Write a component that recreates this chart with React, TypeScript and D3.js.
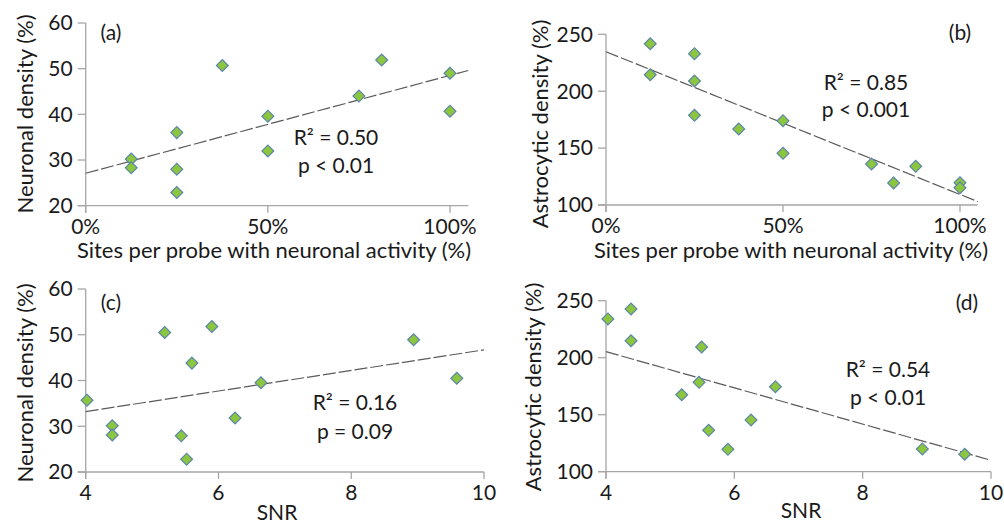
import React from 'react'
import * as d3 from 'd3'

// probes: fraction of sites with neuronal activity
const sitesA = [0.125, 0.125, 0.25, 0.25, 0.25, 0.375, 0.5, 0.5, 0.75, 0.8125, 1, 1]
const neuronA = [30.2, 28.3, 36.0, 28.0, 22.9, 50.7, 39.6, 32.0, 44.0, 51.9, 49.0, 40.7]

const sitesB = [0.125, 0.125, 0.25, 0.25, 0.25, 0.375, 0.5, 0.5, 0.75, 0.8125, 0.875, 1, 1]
const astroB = [241.7, 214.5, 233.0, 209.0, 178.8, 166.8, 174.1, 145.4, 136.0, 119.3, 134.0, 119.6, 115.2]

const snrC = [4.02, 4.4, 4.4, 5.19, 5.44, 5.52, 5.6, 5.9, 6.25, 6.64, 8.94, 9.59]
const neuronC = [35.7, 30.1, 28.1, 50.5, 27.9, 22.8, 43.8, 51.8, 31.8, 39.5, 48.9, 40.5]

const snrD = [4.03, 4.39, 4.39, 5.18, 5.45, 5.49, 5.6, 5.9, 6.26, 6.64, 8.93, 9.59]
const astroD = [234.0, 242.7, 214.9, 167.5, 178.4, 209.4, 136.3, 119.6, 145.4, 174.6, 120.0, 115.3]

// trend line ends [x0, x1] -> [y0, y1]
const trendAx = [0, 1.05], trendAy = [27.1, 49.6]
const trendBx = [0, 1.05], trendBy = [234.7, 103]
const trendCx = [4, 10], trendCy = [33.2, 46.7]
const trendDx = [4, 10], trendDy = [205.3, 110]

const pctTicks = [0, 0.5, 1]
const snrTicks = [4, 6, 8, 10]
const neuronTicks = [20, 30, 40, 50, 60]
const astroTicks = [100, 150, 200, 250]

const FONT = 'Lato, "Open Sans", sans-serif'
const AXIS = '#a6a6a6'
const TXT = '#1a1a1a'
const FS = 21

const diamond = d3.symbol().type(d3.symbolSquare).size(70)()

function Panel(props) {
  const { xs, ys, tx, ty, xDom, xRange, xEnd, yDom, yRange, xTicks, yTicks, xFmt,
    xTitle, xTitleX, xTitleY, xTitleFs, yTitle, yTitleX, yTitleY,
    tag, tagX, tagY, r2, r2X, r2Y, pv, pY } = props
  const x = d3.scaleLinear().domain(xDom).range(xRange)
  const y = d3.scaleLinear().domain(yDom).range(yRange)
  const x0 = xRange[0]
  const x1 = x(xEnd)
  const yb = yRange[0]
  const line = d3.line().x(d => x(d[0])).y(d => y(d[1]))
  return (
    <g fontFamily={FONT} fill={TXT}>
      <line x1={x0} x2={x0} y1={yRange[1]} y2={yb + 7} stroke={AXIS} strokeWidth={1.3} />
      <line x1={x0 - 8} x2={x1} y1={yb} y2={yb} stroke={AXIS} strokeWidth={1.3} />
      {yTicks.map(t => (
        <g key={'y' + t}>
          <line x1={x0 - 8} x2={x0} y1={y(t)} y2={y(t)} stroke={AXIS} strokeWidth={1.3} />
          <text x={x0 - 13} y={y(t)} dy="0.35em" textAnchor="end" fontSize={FS}>{t}</text>
        </g>
      ))}
      {xTicks.map(t => (
        <g key={'x' + t}>
          <line x1={x(t)} x2={x(t)} y1={yb} y2={yb + 7} stroke={AXIS} strokeWidth={1.3} />
          <text x={x(t)} y={yb + 21} dy="0.35em" textAnchor="middle" fontSize={FS}>{xFmt(t)}</text>
        </g>
      ))}
      <text x={xTitleX ?? (x0 + x1) / 2} y={xTitleY} dy="0.35em" textAnchor="middle" fontSize={xTitleFs}>{xTitle}</text>
      <text transform={`translate(${yTitleX},${yTitleY}) rotate(-90)`}
        dy="0.35em" textAnchor="middle" fontSize={22}>{yTitle}</text>
      <path d={line([[tx[0], ty[0]], [tx[1], ty[1]]])} fill="none" stroke="#5a5a5a"
        strokeWidth={1.2} strokeDasharray="13,3" />
      {xs.map((v, i) => (
        <path key={i} d={diamond} transform={`translate(${x(v)},${y(ys[i])}) rotate(45)`}
          fill="#8cc63f" stroke="#5b86a8" strokeWidth={1.2} />
      ))}
      <text x={tagX} y={tagY} dy="0.35em" textAnchor="middle" fontSize={FS}>{tag}</text>
      <text x={r2X} y={r2Y} dy="0.35em" textAnchor="middle" fontSize={FS}>{r2}</text>
      <text x={r2X} y={pY} dy="0.35em" textAnchor="middle" fontSize={FS}>{pv}</text>
    </g>
  )
}

const pct = d3.format('.0%')
const num = d => String(d)

export default function App() {
  return (
    <svg width={1004} height={524} style={{ position: 'absolute', left: 0, top: 0, background: '#fff' }}>
      <Panel xs={sitesA} ys={neuronA} tx={trendAx} ty={trendAy}
        xDom={[0, 1]} xRange={[85.7, 450]} xEnd={1.05} yDom={[20, 60]} yRange={[205.7, 23]}
        xTicks={pctTicks} yTicks={neuronTicks} xFmt={pct}
        xTitle="Sites per probe with neuronal activity (%)" xTitleX={274} xTitleY={250} xTitleFs={22}
        yTitle="Neuronal density (%)" yTitleX={25} yTitleY={114}
        tag="(a)" tagX={111} tagY={33} r2="R² = 0.50" r2X={336} r2Y={138} pv="p < 0.01" pY={166} />
      <Panel xs={sitesB} ys={astroB} tx={trendBx} ty={trendBy}
        xDom={[0, 1]} xRange={[606, 960]} xEnd={1.05} yDom={[100, 250]} yRange={[205, 34.3]}
        xTicks={pctTicks} yTicks={astroTicks} xFmt={pct}
        xTitle="Sites per probe with neuronal activity (%)" xTitleX={791} xTitleY={250} xTitleFs={22}
        yTitle="Astrocytic density (%)" yTitleX={540} yTitleY={124}
        tag="(b)" tagX={960} tagY={33} r2="R² = 0.85" r2X={866} r2Y={83} pv="p < 0.001" pY={110} />
      <Panel xs={snrC} ys={neuronC} tx={trendCx} ty={trendCy}
        xDom={[4, 10]} xRange={[85.7, 484]} xEnd={10} yDom={[20, 60]} yRange={[472, 289]}
        xTicks={snrTicks} yTicks={neuronTicks} xFmt={num}
        xTitle="SNR" xTitleX={277} xTitleY={513} xTitleFs={FS}
        yTitle="Neuronal density (%)" yTitleX={25} yTitleY={383}
        tag="(c)" tagX={111} tagY={303} r2="R² = 0.16" r2X={355} r2Y={403} pv="p = 0.09" pY={432} />
      <Panel xs={snrD} ys={astroD} tx={trendDx} ty={trendDy}
        xDom={[4, 10]} xRange={[606, 991]} xEnd={10} yDom={[100, 250]} yRange={[471.7, 300.7]}
        xTicks={snrTicks} yTicks={astroTicks} xFmt={num}
        xTitle="SNR" xTitleX={801} xTitleY={511} xTitleFs={FS}
        yTitle="Astrocytic density (%)" yTitleX={533} yTitleY={387}
        tag="(d)" tagX={967} tagY={303} r2="R² = 0.54" r2X={888} r2Y={370} pv="p < 0.01" pY={398} />
    </svg>
  )
}
